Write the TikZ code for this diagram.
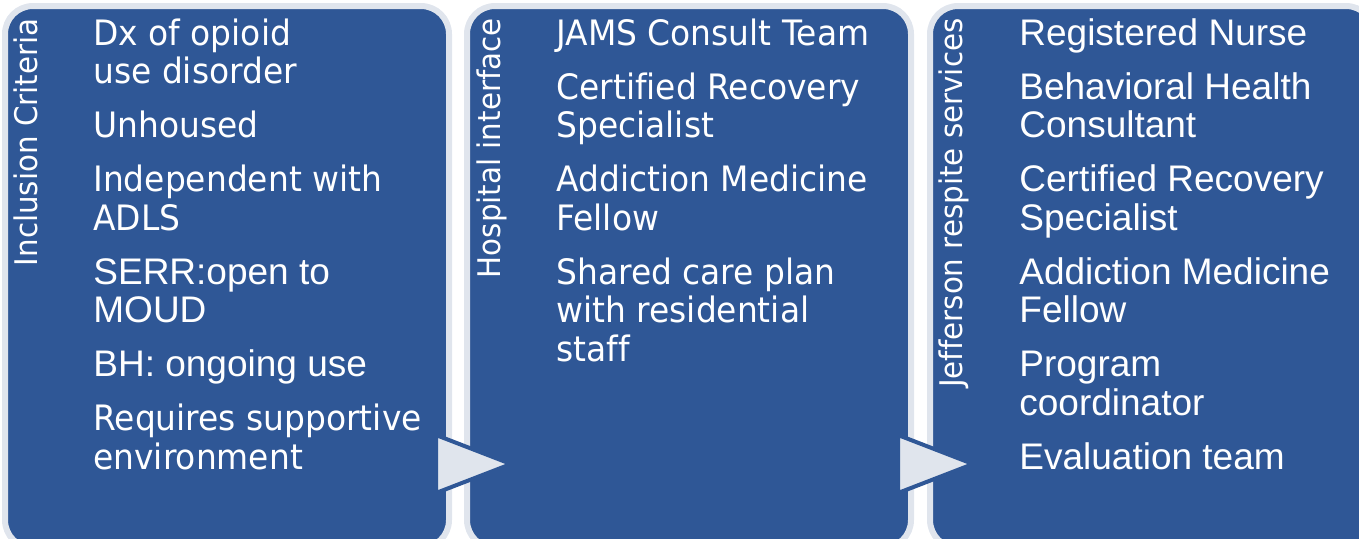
\documentclass[tikz,border=0pt]{standalone}
\usepackage{fontspec}
\usepackage{tikz}
\usetikzlibrary{calc,shapes.geometric}
\setmainfont{Liberation Sans}
\newfontfamily\tahomaface[FakeStretch=0.94,Ligatures=NoCommon]{DejaVu Sans}
\newfontfamily\arialface[Ligatures=NoCommon]{Liberation Sans}
\definecolor{panelblue}{RGB}{47,87,150}
\definecolor{panelrim}{RGB}{224,229,237}
\newcommand{\tah}{\tahomaface\fontsize{17.5}{19.25}\selectfont}
\newcommand{\ari}{\arialface\fontsize{18.5}{19.25}\selectfont}

\tikzset{
  panel/.style={rectangle, rounded corners=14pt, fill=panelblue, draw=panelrim,
    line width=3pt, minimum width=222pt, minimum height=271pt, inner sep=0pt},
  paneltitle/.style={rotate=90, anchor=base east, inner sep=0pt, text=white,
    font=\tahomaface\fontsize{15.6}{19}\selectfont},
  listtext/.style={anchor=north west, inner sep=0pt, align=left, text=white},
  flowtri/.style={isosceles triangle, isosceles triangle stretches,
    shape border rotate=0, fill=panelrim, draw=panelblue, line width=2pt,
    minimum width=29pt, minimum height=37.5pt, inner sep=0pt, outer sep=0pt,
    anchor=west}
}

\begin{document}
\begin{tikzpicture}[x=0.5pt,y=-0.5pt]
\useasboundingbox (0,0) rectangle (1359,538);
\node[panel] (incl) at (227,277) {};
\node[panel] (hosp) at (689,277) {};
\node[panel] (resp) at (1152,277) {};

\node[paneltitle] (inclT) at (37,18) {Inclusion Criteria};
\node[paneltitle] (hospT) at (500,18) {Hospital interface};
\node[paneltitle] (respT) at (962,18) {Jefferson respite services};

\node[listtext, font=\tah] (inclL) at (93,18) {Dx of opioid\\ use disorder\\[7.75pt]
Unhoused\\[7.75pt]
Independent with\\ ADLS\\[7.75pt]
\ari SERR:open to\\ \ari MOUD\\[7.75pt]
\ari BH: ongoing use\\[7.75pt]
Requires supportive\\ environment};
\node[listtext, font=\tah] (hospL) at (556,18) {JAMS Consult Team\\[7.75pt]
Certified Recovery\\ Specialist\\[7.75pt]
Addiction Medicine\\ Fellow\\[7.75pt]
Shared care plan\\ with residential\\ staff};
\node[listtext, font=\ari] (respL) at (1019,18) {Registered Nurse\\[7.75pt]
Behavioral Health\\ Consultant\\[7.75pt]
Certified Recovery\\ Specialist\\[7.75pt]
Addiction Medicine\\ Fellow\\[7.75pt]
Program\\ coordinator\\[7.75pt]
Evaluation team};

\node[flowtri] (inclhosp) at ($(incl.east |- 0,464)+(-16,0)$) {};
\node[flowtri] (hospresp) at ($(hosp.east |- 0,464)+(-16,0)$) {};
\end{tikzpicture}
\end{document}
